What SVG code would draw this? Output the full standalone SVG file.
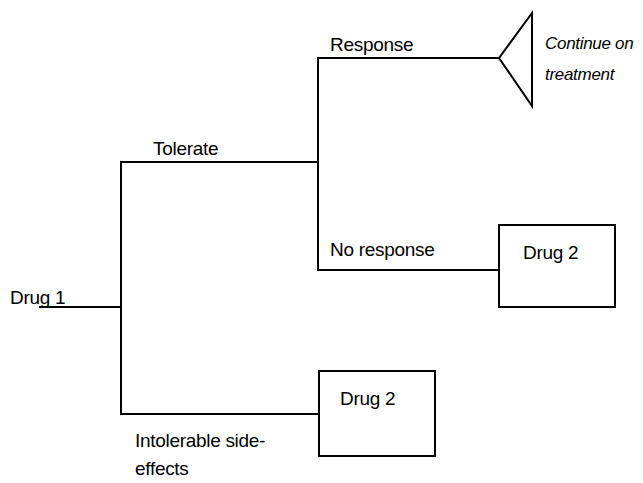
<svg xmlns="http://www.w3.org/2000/svg" width="643" height="483" viewBox="0 0 643 483">
<style>
.ln{fill:none;stroke:#000;stroke-width:2}
.bx{fill:#fff;stroke:#000;stroke-width:2}
text{font-family:"Liberation Sans",Arial,sans-serif;font-size:19px;fill:#000;letter-spacing:-0.3px}
.it{font-style:italic;font-size:17px}
</style>
<rect width="643" height="483" fill="#fff"/>
<g id="connectors">
<polyline class="ln" points="39,307 121,307"/>
<polyline class="ln" points="318,162 121,162 121,414 319,414"/>
<polyline class="ln" points="499,58 318,58 318,270 499,270"/>
</g>
<g id="drug1"><text x="10" y="304">Drug 1</text></g>
<g id="tolerate"><text x="153" y="155">Tolerate</text></g>
<g id="response"><text x="330" y="51">Response</text></g>
<g id="noresponse"><text x="330" y="256">No response</text></g>
<g id="intolerable"><text x="135" y="447">Intolerable side-</text><text x="135" y="475">effects</text></g>
<g id="continue">
<polygon class="ln" points="499,58 532,13 532,106"/>
<text class="it" x="545" y="49">Continue on</text>
<text class="it" x="545" y="80">treatment</text>
</g>
<g id="drug2a"><rect class="bx" x="499" y="225" width="116" height="82"/><text x="523" y="259">Drug 2</text></g>
<g id="drug2b"><rect class="bx" x="319" y="371" width="116" height="85"/><text x="340" y="405">Drug 2</text></g>
</svg>
